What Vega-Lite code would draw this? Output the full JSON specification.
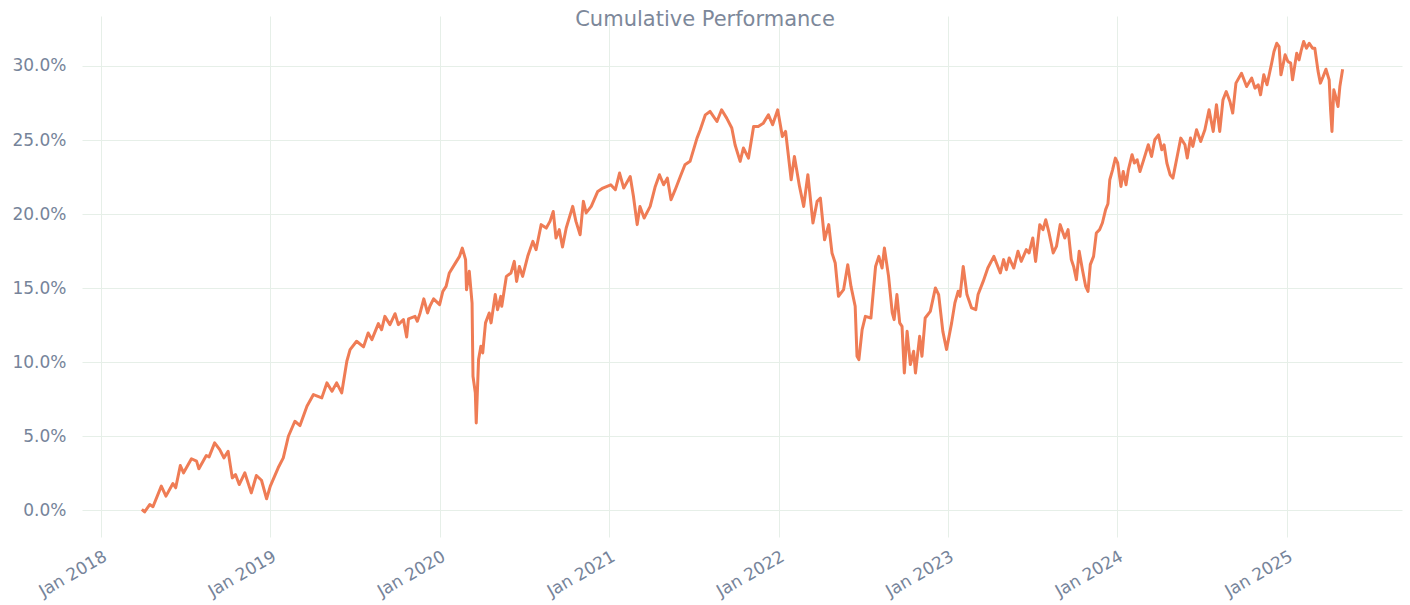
{
  "$schema": "https://vega.github.io/schema/vega-lite/v6.json",
  "autosize": "none",
  "width": 1320,
  "height": 521,
  "padding": {"left": 82, "top": 16, "right": 8, "bottom": 68},
  "background": "white",
  "title": {
    "text": "Cumulative Performance",
    "anchor": "middle",
    "orient": "top",
    "offset": -14,
    "dx": -37,
    "font": "DejaVu Sans",
    "fontSize": 21,
    "fontWeight": "normal",
    "color": "#7d889a"
  },
  "config": {
    "view": {"stroke": null},
    "axis": {
      "labelFont": "DejaVu Sans",
      "labelFontSize": 17,
      "labelColor": "#76849a",
      "gridColor": "#e6efe8",
      "gridWidth": 1,
      "domain": false,
      "ticks": false,
      "title": null
    }
  },
  "data": {
    "values": [
      {"d":"2018-03-30","v":0.0007},{"d":"2018-04-05","v":-0.001},{"d":"2018-04-16","v":0.004},{"d":"2018-04-23","v":0.0025},
      {"d":"2018-05-11","v":0.0164},{"d":"2018-05-21","v":0.0097},{"d":"2018-06-05","v":0.0182},{"d":"2018-06-11","v":0.0153},
      {"d":"2018-06-21","v":0.0303},{"d":"2018-06-28","v":0.0254},{"d":"2018-07-15","v":0.0349},{"d":"2018-07-26","v":0.0333},
      {"d":"2018-07-31","v":0.0281},{"d":"2018-08-16","v":0.0371},{"d":"2018-08-22","v":0.0362},{"d":"2018-09-03","v":0.0456},
      {"d":"2018-09-14","v":0.0411},{"d":"2018-09-23","v":0.0355},{"d":"2018-10-02","v":0.040},{"d":"2018-10-11","v":0.022},
      {"d":"2018-10-18","v":0.0243},{"d":"2018-10-26","v":0.0175},{"d":"2018-11-07","v":0.0254},{"d":"2018-11-21","v":0.0119},
      {"d":"2018-12-02","v":0.0236},{"d":"2018-12-13","v":0.0204},{"d":"2018-12-24","v":0.0079},{"d":"2019-01-01","v":0.0164},
      {"d":"2019-01-18","v":0.0288},{"d":"2019-01-29","v":0.0355},{"d":"2019-02-09","v":0.0501},{"d":"2019-02-23","v":0.0602},
      {"d":"2019-03-06","v":0.0573},{"d":"2019-03-21","v":0.0703},{"d":"2019-04-04","v":0.0782},{"d":"2019-04-22","v":0.076},
      {"d":"2019-05-03","v":0.0861},{"d":"2019-05-14","v":0.0804},{"d":"2019-05-24","v":0.0861},{"d":"2019-06-04","v":0.0794},
      {"d":"2019-06-15","v":0.1007},{"d":"2019-06-22","v":0.1086},{"d":"2019-07-06","v":0.1142},{"d":"2019-07-21","v":0.1104},
      {"d":"2019-07-31","v":0.1198},{"d":"2019-08-08","v":0.1153},{"d":"2019-08-22","v":0.1261},{"d":"2019-08-29","v":0.122},
      {"d":"2019-09-05","v":0.131},{"d":"2019-09-16","v":0.1254},{"d":"2019-09-27","v":0.1328},{"d":"2019-10-04","v":0.1254},
      {"d":"2019-10-15","v":0.1288},{"d":"2019-10-22","v":0.1171},{"d":"2019-10-26","v":0.1293},{"d":"2019-11-09","v":0.131},
      {"d":"2019-11-14","v":0.1277},{"d":"2019-11-20","v":0.1333},{"d":"2019-11-28","v":0.1428},{"d":"2019-12-06","v":0.1333},
      {"d":"2019-12-11","v":0.1378},{"d":"2019-12-19","v":0.1428},{"d":"2020-01-01","v":0.1389},{"d":"2020-01-08","v":0.1479},
      {"d":"2020-01-15","v":0.1512},{"d":"2020-01-22","v":0.1603},{"d":"2020-02-02","v":0.1659},{"d":"2020-02-13","v":0.1715},
      {"d":"2020-02-19","v":0.1771},{"d":"2020-02-26","v":0.1693},{"d":"2020-02-28","v":0.149},{"d":"2020-03-05","v":0.1614},
      {"d":"2020-03-11","v":0.140},{"d":"2020-03-13","v":0.0906},{"d":"2020-03-18","v":0.0794},{"d":"2020-03-20","v":0.0591},
      {"d":"2020-03-25","v":0.1018},{"d":"2020-03-30","v":0.1108},{"d":"2020-04-03","v":0.1063},{"d":"2020-04-09","v":0.1266},
      {"d":"2020-04-17","v":0.1333},{"d":"2020-04-21","v":0.1266},{"d":"2020-04-30","v":0.1457},{"d":"2020-05-05","v":0.1355},
      {"d":"2020-05-12","v":0.1445},{"d":"2020-05-14","v":0.1378},{"d":"2020-05-24","v":0.158},{"d":"2020-06-03","v":0.1603},
      {"d":"2020-06-10","v":0.1681},{"d":"2020-06-15","v":0.1546},{"d":"2020-06-21","v":0.1647},{"d":"2020-06-28","v":0.158},
      {"d":"2020-07-09","v":0.1715},{"d":"2020-07-20","v":0.1816},{"d":"2020-07-27","v":0.176},{"d":"2020-08-07","v":0.1929},
      {"d":"2020-08-18","v":0.1906},{"d":"2020-08-26","v":0.1951},{"d":"2020-09-02","v":0.2018},{"d":"2020-09-08","v":0.1839},
      {"d":"2020-09-15","v":0.1895},{"d":"2020-09-22","v":0.1778},{"d":"2020-09-30","v":0.1906},{"d":"2020-10-14","v":0.2052},
      {"d":"2020-10-21","v":0.1951},{"d":"2020-10-30","v":0.1861},{"d":"2020-11-06","v":0.2086},{"d":"2020-11-12","v":0.2008},
      {"d":"2020-11-23","v":0.2052},{"d":"2020-12-07","v":0.2153},{"d":"2020-12-18","v":0.2176},{"d":"2021-01-04","v":0.2198},
      {"d":"2021-01-14","v":0.2165},{"d":"2021-01-23","v":0.2277},{"d":"2021-02-01","v":0.2176},{"d":"2021-02-15","v":0.2254},
      {"d":"2021-02-22","v":0.2119},{"d":"2021-03-02","v":0.1929},{"d":"2021-03-08","v":0.2052},{"d":"2021-03-17","v":0.1974},
      {"d":"2021-03-30","v":0.2052},{"d":"2021-04-10","v":0.2187},{"d":"2021-04-19","v":0.2266},{"d":"2021-04-28","v":0.2198},
      {"d":"2021-05-06","v":0.2243},{"d":"2021-05-14","v":0.2097},{"d":"2021-05-23","v":0.2165},{"d":"2021-06-03","v":0.2254},
      {"d":"2021-06-13","v":0.2333},{"d":"2021-06-24","v":0.2356},{"d":"2021-07-09","v":0.2513},{"d":"2021-07-16","v":0.2569},
      {"d":"2021-07-27","v":0.267},{"d":"2021-08-06","v":0.2693},{"d":"2021-08-21","v":0.2625},{"d":"2021-08-31","v":0.2704},
      {"d":"2021-09-11","v":0.2648},{"d":"2021-09-22","v":0.2581},{"d":"2021-09-29","v":0.2468},{"d":"2021-10-10","v":0.2356},
      {"d":"2021-10-17","v":0.2446},{"d":"2021-10-28","v":0.2378},{"d":"2021-11-08","v":0.2591},{"d":"2021-11-18","v":0.2591},
      {"d":"2021-11-29","v":0.2614},{"d":"2021-12-10","v":0.267},{"d":"2021-12-19","v":0.2603},{"d":"2021-12-30","v":0.2704},
      {"d":"2022-01-09","v":0.2524},{"d":"2022-01-16","v":0.2558},{"d":"2022-01-28","v":0.2232},{"d":"2022-02-04","v":0.2389},
      {"d":"2022-02-15","v":0.2187},{"d":"2022-02-24","v":0.2052},{"d":"2022-03-05","v":0.2266},{"d":"2022-03-16","v":0.194},
      {"d":"2022-03-25","v":0.2086},{"d":"2022-04-01","v":0.2108},{"d":"2022-04-10","v":0.1827},{"d":"2022-04-19","v":0.1929},
      {"d":"2022-04-26","v":0.1738},{"d":"2022-05-03","v":0.167},{"d":"2022-05-10","v":0.1445},{"d":"2022-05-21","v":0.149},
      {"d":"2022-05-30","v":0.1659},{"d":"2022-06-06","v":0.1512},{"d":"2022-06-15","v":0.1378},{"d":"2022-06-19","v":0.1041},
      {"d":"2022-06-23","v":0.1018},{"d":"2022-06-30","v":0.122},{"d":"2022-07-07","v":0.131},{"d":"2022-07-19","v":0.1299},
      {"d":"2022-07-29","v":0.1647},{"d":"2022-08-05","v":0.1715},{"d":"2022-08-12","v":0.1636},{"d":"2022-08-17","v":0.1771},
      {"d":"2022-08-26","v":0.158},{"d":"2022-09-03","v":0.1333},{"d":"2022-09-07","v":0.1288},{"d":"2022-09-13","v":0.1457},
      {"d":"2022-09-19","v":0.1266},{"d":"2022-09-24","v":0.1243},{"d":"2022-09-29","v":0.0928},{"d":"2022-10-05","v":0.1209},
      {"d":"2022-10-12","v":0.0985},{"d":"2022-10-19","v":0.1074},{"d":"2022-10-23","v":0.0928},{"d":"2022-11-01","v":0.1175},
      {"d":"2022-11-06","v":0.1041},{"d":"2022-11-13","v":0.1299},{"d":"2022-11-24","v":0.1344},{"d":"2022-12-05","v":0.1502},
      {"d":"2022-12-12","v":0.1457},{"d":"2022-12-21","v":0.1209},{"d":"2022-12-29","v":0.1086},{"d":"2023-01-09","v":0.1266},
      {"d":"2023-01-16","v":0.1401},{"d":"2023-01-23","v":0.1479},{"d":"2023-01-27","v":0.1445},{"d":"2023-02-03","v":0.1647},
      {"d":"2023-02-11","v":0.1457},{"d":"2023-02-21","v":0.1367},{"d":"2023-03-02","v":0.1355},{"d":"2023-03-07","v":0.1457},
      {"d":"2023-03-18","v":0.1546},{"d":"2023-03-28","v":0.1636},{"d":"2023-04-10","v":0.1715},{"d":"2023-04-24","v":0.1603},
      {"d":"2023-05-01","v":0.1693},{"d":"2023-05-07","v":0.1625},{"d":"2023-05-13","v":0.1704},{"d":"2023-05-23","v":0.1636},
      {"d":"2023-06-01","v":0.1749},{"d":"2023-06-08","v":0.1681},{"d":"2023-06-19","v":0.176},{"d":"2023-06-25","v":0.1738},
      {"d":"2023-07-03","v":0.1839},{"d":"2023-07-09","v":0.1681},{"d":"2023-07-18","v":0.1929},{"d":"2023-07-25","v":0.1895},
      {"d":"2023-07-31","v":0.1962},{"d":"2023-08-07","v":0.1873},{"d":"2023-08-16","v":0.1738},{"d":"2023-08-23","v":0.1782},
      {"d":"2023-08-31","v":0.1929},{"d":"2023-09-10","v":0.1839},{"d":"2023-09-17","v":0.1895},{"d":"2023-09-24","v":0.1693},
      {"d":"2023-09-29","v":0.1647},{"d":"2023-10-05","v":0.1558},{"d":"2023-10-11","v":0.1749},{"d":"2023-10-18","v":0.1625},
      {"d":"2023-10-25","v":0.1512},{"d":"2023-10-30","v":0.1479},{"d":"2023-11-04","v":0.1659},{"d":"2023-11-11","v":0.1715},
      {"d":"2023-11-17","v":0.1873},{"d":"2023-11-24","v":0.1895},{"d":"2023-11-30","v":0.194},{"d":"2023-12-07","v":0.203},
      {"d":"2023-12-12","v":0.207},{"d":"2023-12-16","v":0.2232},{"d":"2023-12-22","v":0.2299},{"d":"2023-12-28","v":0.2378},
      {"d":"2024-01-02","v":0.2345},{"d":"2024-01-09","v":0.2187},{"d":"2024-01-14","v":0.2288},{"d":"2024-01-20","v":0.2198},
      {"d":"2024-01-25","v":0.2299},{"d":"2024-02-02","v":0.2401},{"d":"2024-02-07","v":0.2345},{"d":"2024-02-13","v":0.2367},
      {"d":"2024-02-19","v":0.2288},{"d":"2024-02-26","v":0.2356},{"d":"2024-03-08","v":0.2468},{"d":"2024-03-15","v":0.2389},
      {"d":"2024-03-22","v":0.2502},{"d":"2024-03-30","v":0.2535},{"d":"2024-04-06","v":0.2434},{"d":"2024-04-11","v":0.2468},
      {"d":"2024-04-17","v":0.2345},{"d":"2024-04-24","v":0.2266},{"d":"2024-04-30","v":0.2243},{"d":"2024-05-10","v":0.2401},
      {"d":"2024-05-17","v":0.2513},{"d":"2024-05-26","v":0.2468},{"d":"2024-05-31","v":0.2378},{"d":"2024-06-07","v":0.2513},
      {"d":"2024-06-12","v":0.2457},{"d":"2024-06-20","v":0.2569},{"d":"2024-06-29","v":0.249},{"d":"2024-07-08","v":0.2569},
      {"d":"2024-07-17","v":0.2704},{"d":"2024-07-26","v":0.2558},{"d":"2024-08-02","v":0.2738},{"d":"2024-08-09","v":0.2558},
      {"d":"2024-08-16","v":0.2771},{"d":"2024-08-23","v":0.2827},{"d":"2024-08-31","v":0.276},{"d":"2024-09-06","v":0.2682},
      {"d":"2024-09-13","v":0.2884},{"d":"2024-09-25","v":0.2951},{"d":"2024-10-06","v":0.2861},{"d":"2024-10-17","v":0.2918},
      {"d":"2024-10-24","v":0.285},{"d":"2024-10-31","v":0.2873},{"d":"2024-11-05","v":0.2805},{"d":"2024-11-12","v":0.294},
      {"d":"2024-11-19","v":0.2873},{"d":"2024-11-29","v":0.3019},{"d":"2024-12-04","v":0.3097},{"d":"2024-12-10","v":0.3153},
      {"d":"2024-12-15","v":0.3131},{"d":"2024-12-19","v":0.294},{"d":"2024-12-28","v":0.3075},{"d":"2025-01-03","v":0.303},
      {"d":"2025-01-09","v":0.3019},{"d":"2025-01-13","v":0.2906},{"d":"2025-01-22","v":0.3086},{"d":"2025-01-27","v":0.3041},
      {"d":"2025-02-01","v":0.3109},{"d":"2025-02-06","v":0.3165},{"d":"2025-02-12","v":0.312},{"d":"2025-02-18","v":0.3153},
      {"d":"2025-02-25","v":0.312},{"d":"2025-03-02","v":0.312},{"d":"2025-03-09","v":0.2965},{"d":"2025-03-14","v":0.2884},
      {"d":"2025-03-20","v":0.2929},{"d":"2025-03-26","v":0.2978},{"d":"2025-04-02","v":0.2906},{"d":"2025-04-05","v":0.2704},
      {"d":"2025-04-08","v":0.2558},{"d":"2025-04-12","v":0.2839},{"d":"2025-04-16","v":0.2794},{"d":"2025-04-21","v":0.2726},
      {"d":"2025-04-25","v":0.2861},{"d":"2025-05-01","v":0.2978}
    ]
  },
  "mark": {"type": "line", "color": "#ef7c55", "strokeWidth": 3, "strokeJoin": "round"},
  "encoding": {
    "x": {
      "field": "d",
      "type": "temporal",
      "scale": {"domain": ["2017-11-21", "2025-09-06"]},
      "axis": {
        "format": "%b %Y",
        "tickCount": {"interval": "year", "step": 1},
        "labelAngle": -30,
        "labelAlign": "right",
        "labelBaseline": "top",
        "labelPadding": 11,
        "labelOverlap": false
      }
    },
    "y": {
      "field": "v",
      "type": "quantitative",
      "scale": {"domain": [-0.0179, 0.3337], "nice": false, "zero": false},
      "axis": {
        "format": ".1%",
        "values": [0, 0.05, 0.1, 0.15, 0.2, 0.25, 0.3],
        "labelPadding": 16
      }
    }
  }
}
